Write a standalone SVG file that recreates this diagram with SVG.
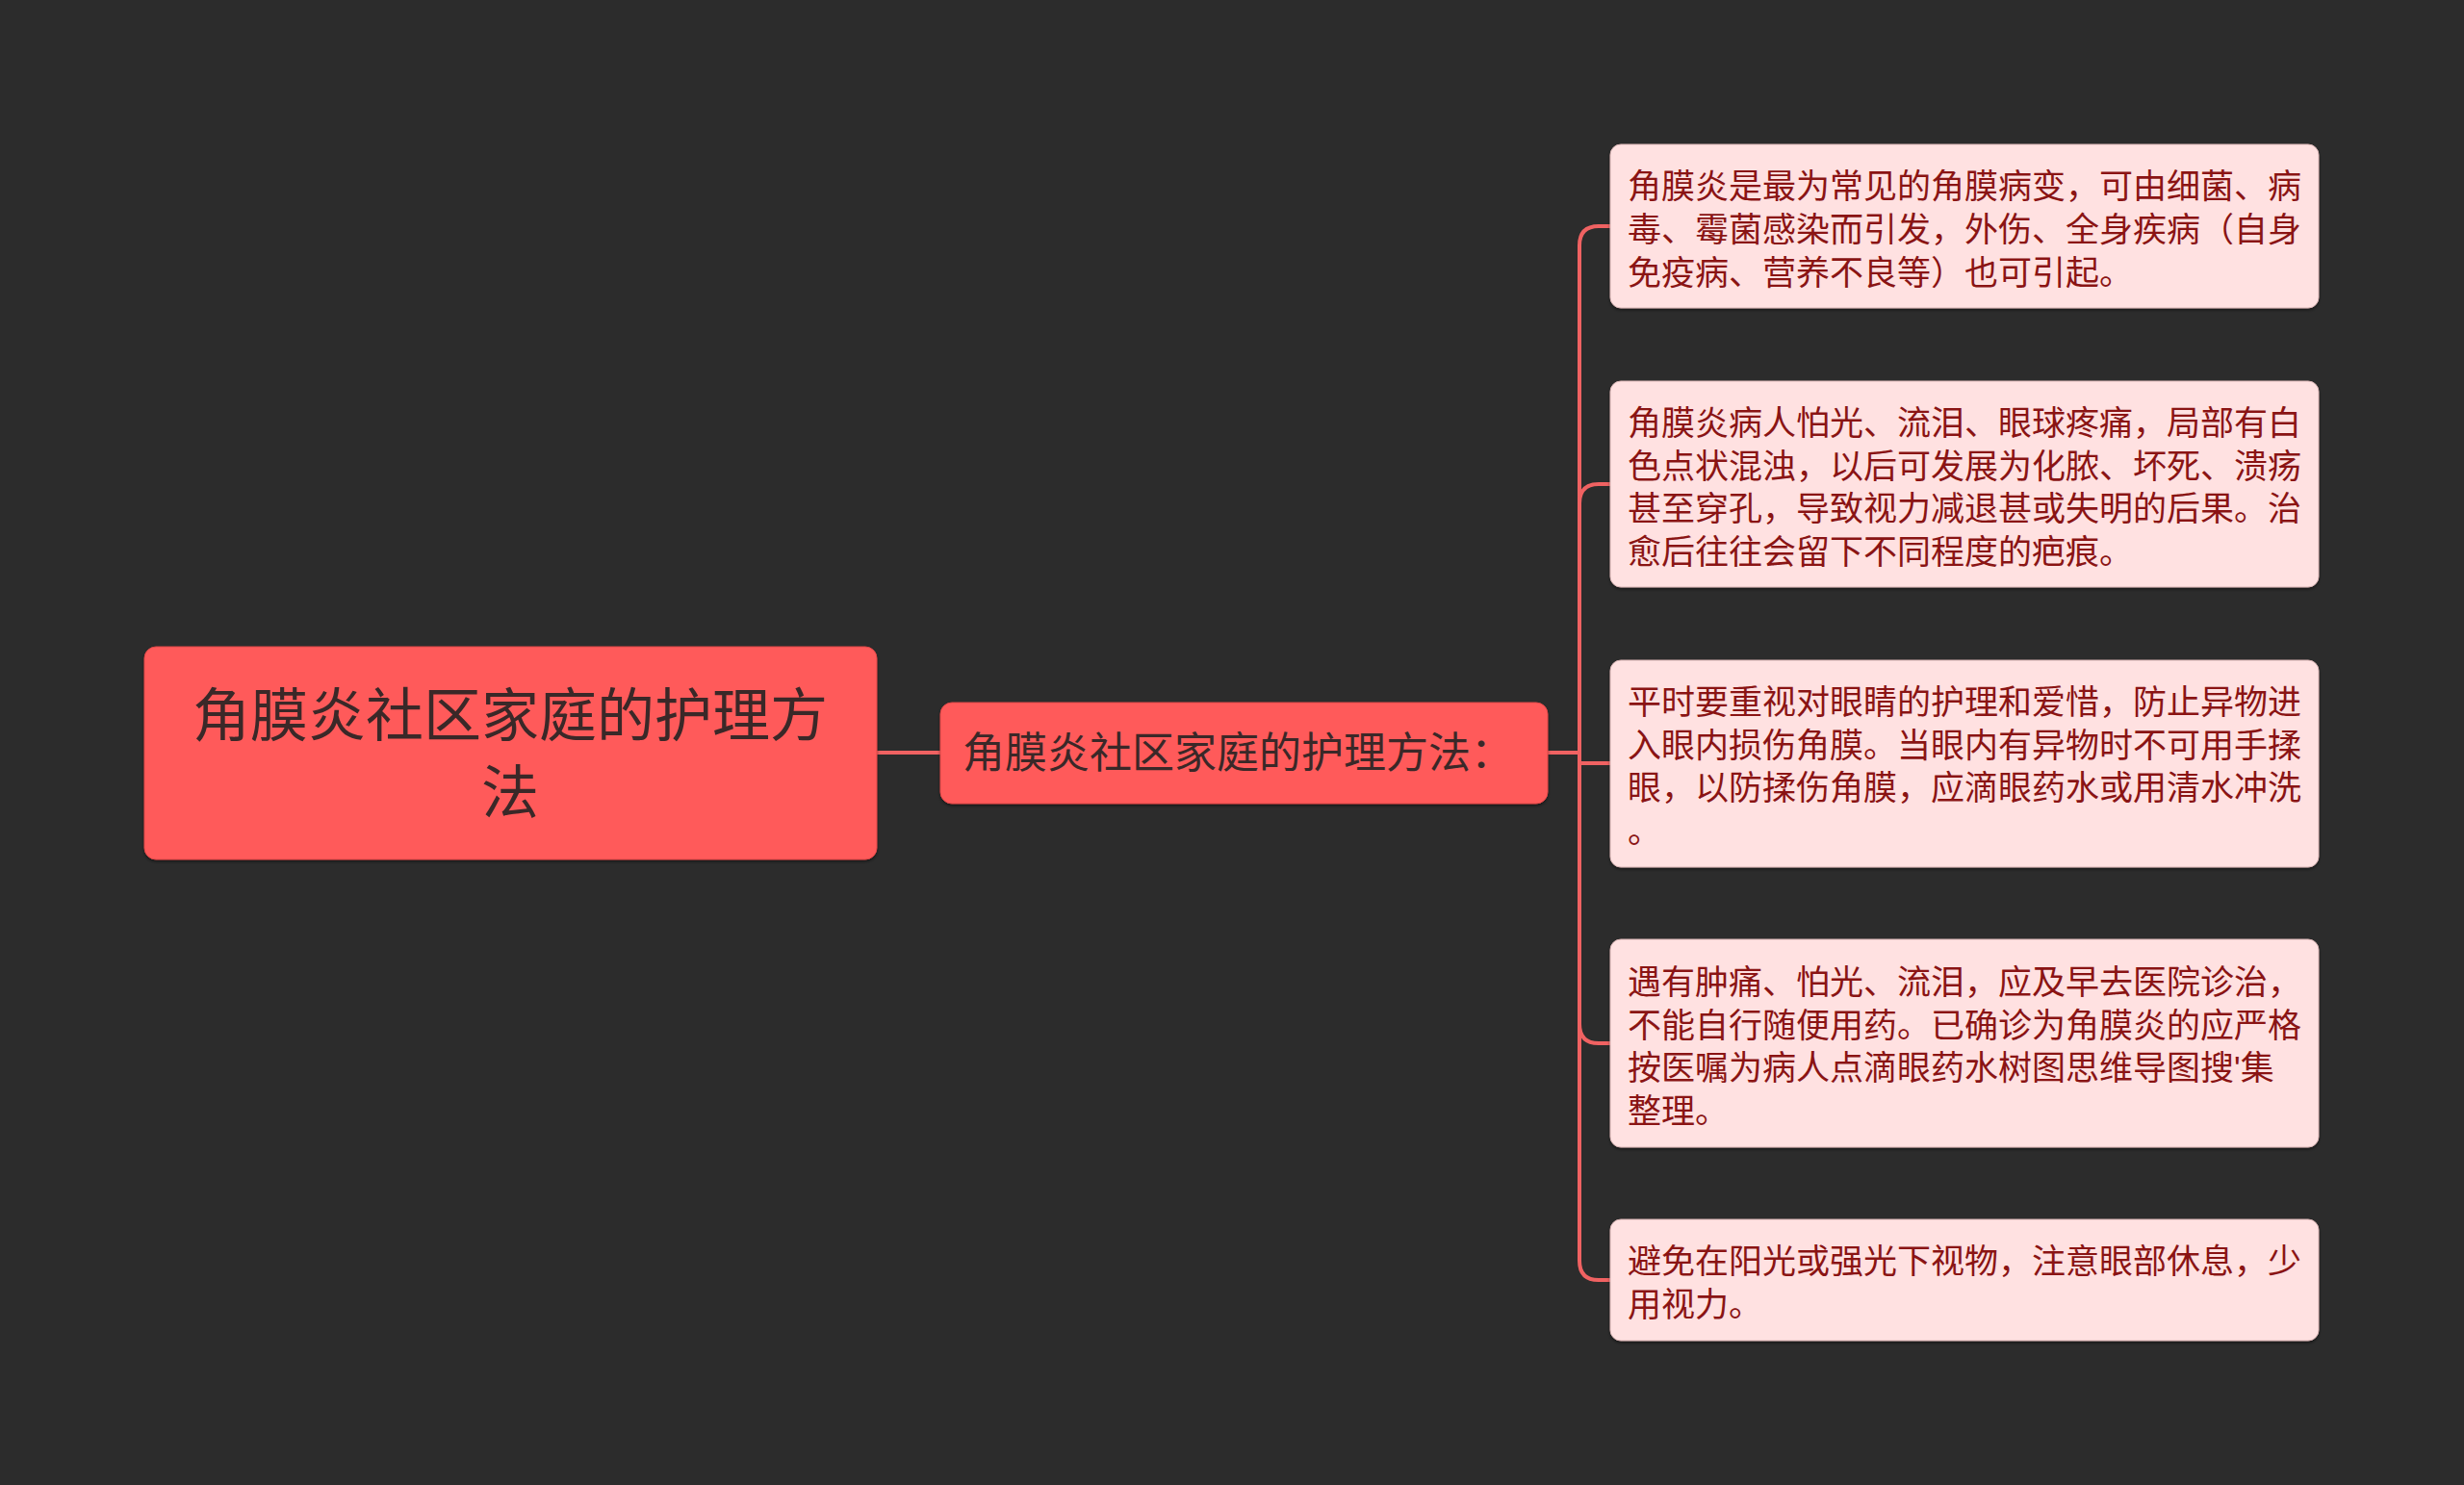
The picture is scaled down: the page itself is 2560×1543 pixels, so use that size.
<svg xmlns="http://www.w3.org/2000/svg" width="2560" height="1543" viewBox="0 0 2560 1543">
<style>
.bg{fill:#2c2c2c}
.main{fill:#ff5a5a;stroke:#e04848;stroke-width:1}
.leaf{fill:#ffe1e1;stroke:#d9b5b5;stroke-width:1}
.conn{fill:none;stroke:#f06262;stroke-width:4;stroke-linecap:round}
.t-root{font-family:"Liberation Sans","Noto Sans CJK SC",sans-serif;font-size:60px;fill:#3a2828}
.t-mid{font-family:"Liberation Sans","Noto Sans CJK SC",sans-serif;font-size:44px;fill:#3a2828}
.t-leaf{font-family:"Liberation Sans","Noto Sans CJK SC",sans-serif;font-size:35px;fill:#8a1414}
</style>
<defs>
<filter id="sh" x="-5%" y="-5%" width="110%" height="115%">
<feDropShadow dx="0" dy="2" stdDeviation="1.5" flood-color="#000" flood-opacity="0.45"/>
</filter>
</defs>
<rect class="bg" x="0" y="0" width="2560" height="1543"/>
<g id="connectors">
<path class="conn" d="M911,782 H977"/>
<path class="conn" d="M1608,782 H1641 V255 Q1641,235 1661,235 H1673"/>
<path class="conn" d="M1608,782 H1641 V523 Q1641,503 1661,503 H1673"/>
<path class="conn" d="M1608,782 H1641 V793 H1673"/>
<path class="conn" d="M1608,782 H1641 V1064 Q1641,1084 1661,1084 H1673"/>
<path class="conn" d="M1608,782 H1641 V1310 Q1641,1330 1661,1330 H1673"/>
</g>
<g id="root">
<rect class="main" x="150" y="672" width="761" height="221" rx="12" filter="url(#sh)"/>
<text class="t-root" text-anchor="middle"><tspan x="530" y="765">角膜炎社区家庭的护理方</tspan><tspan x="530" y="845">法</tspan></text>
</g>
<g id="middle">
<rect class="main" x="977" y="730" width="631" height="105" rx="12" filter="url(#sh)"/>
<text class="t-mid" x="1000" y="798">角膜炎社区家庭的护理方法：</text>
</g>
<g id="leaf1">
<rect class="leaf" x="1673" y="150" width="736" height="170" rx="11" filter="url(#sh)"/>
<text class="t-leaf"><tspan x="1691" y="206">角膜炎是最为常见的角膜病变，可由细菌、病</tspan><tspan x="1691" y="251">毒、霉菌感染而引发，外伤、全身疾病（自身</tspan><tspan x="1691" y="296">免疫病、营养不良等）也可引起。</tspan></text>
</g>
<g id="leaf2">
<rect class="leaf" x="1673" y="396" width="736" height="214" rx="11" filter="url(#sh)"/>
<text class="t-leaf"><tspan x="1691" y="452">角膜炎病人怕光、流泪、眼球疼痛，局部有白</tspan><tspan x="1691" y="497">色点状混浊，以后可发展为化脓、坏死、溃疡</tspan><tspan x="1691" y="541">甚至穿孔，导致视力减退甚或失明的后果。治</tspan><tspan x="1691" y="586">愈后往往会留下不同程度的疤痕。</tspan></text>
</g>
<g id="leaf3">
<rect class="leaf" x="1673" y="686" width="736" height="215" rx="11" filter="url(#sh)"/>
<text class="t-leaf"><tspan x="1691" y="742">平时要重视对眼睛的护理和爱惜，防止异物进</tspan><tspan x="1691" y="787">入眼内损伤角膜。当眼内有异物时不可用手揉</tspan><tspan x="1691" y="831">眼，以防揉伤角膜，应滴眼药水或用清水冲洗</tspan><tspan x="1691" y="876">。</tspan></text>
</g>
<g id="leaf4">
<rect class="leaf" x="1673" y="976" width="736" height="216" rx="11" filter="url(#sh)"/>
<text class="t-leaf"><tspan x="1691" y="1033">遇有肿痛、怕光、流泪，应及早去医院诊治，</tspan><tspan x="1691" y="1078">不能自行随便用药。已确诊为角膜炎的应严格</tspan><tspan x="1691" y="1122">按医嘱为病人点滴眼药水树图思维导图搜'集</tspan><tspan x="1691" y="1167">整理。</tspan></text>
</g>
<g id="leaf5">
<rect class="leaf" x="1673" y="1267" width="736" height="126" rx="11" filter="url(#sh)"/>
<text class="t-leaf"><tspan x="1691" y="1323">避免在阳光或强光下视物，注意眼部休息，少</tspan><tspan x="1691" y="1368">用视力。</tspan></text>
</g>
</svg>
